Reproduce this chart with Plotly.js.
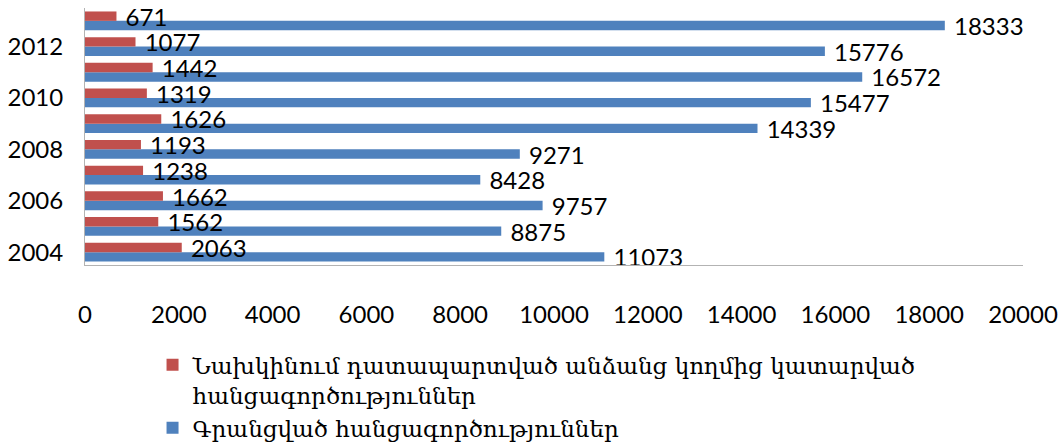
<!DOCTYPE html>
<html>
<head>
<meta charset="utf-8">
<script src="https://cdn.plot.ly/plotly-3.0.1.min.js"></script>
<style>html,body{margin:0;padding:0;background:#fff;}#chart{width:1063px;height:446px;}</style>
</head>
<body>
<div id="chart"></div>
<script>
const years = ['2004','2005','2006','2007','2008','2009','2010','2011','2012','2013'];
const convictedCrimes = [2063, 1562, 1662, 1238, 1193, 1626, 1319, 1442, 1077, 671];
const registeredCrimes = [11073, 8875, 9757, 8428, 9271, 14339, 15477, 16572, 15776, 18333];
const yTickLabels = ['2004','2006','2008','2010','2012'];
const xTicks = [0, 2000, 4000, 6000, 8000, 10000, 12000, 14000, 16000, 18000, 20000];
const seriesNames = [
  'Նախկինում դատապարտված անձանց կողմից կատարված<br>հանցագործություններ',
  'Գրանցված հանցագործություններ'
];

const labelFont = {family: 'Lato, Carlito, Calibri, sans-serif', size: 24, color: '#000'};

const traces = [
  {
    type: 'bar', orientation: 'h', name: seriesNames[1],
    y: years, x: registeredCrimes,
    marker: {color: '#4F81BD'},
    text: registeredCrimes.map(v => ' ' + String(v)), textposition: 'outside',
    textfont: labelFont, constraintext: 'none', cliponaxis: false,
    hoverinfo: 'x+y'
  },
  {
    type: 'bar', orientation: 'h', name: seriesNames[0],
    y: years, x: convictedCrimes,
    marker: {color: '#C0504D'},
    text: convictedCrimes.map(v => ' ' + String(v)), textposition: 'outside',
    textfont: labelFont, constraintext: 'none', cliponaxis: false,
    hoverinfo: 'x+y'
  }
];

const layout = {
  width: 1063, height: 446,
  margin: {l: 85, r: 40, t: 8, b: 181, autoexpand: false},
  paper_bgcolor: '#fff', plot_bgcolor: '#fff',
  barmode: 'group', bargap: 0.27, bargroupgap: 0,
  showlegend: true,
  legend: {
    traceorder: 'reversed', orientation: 'v',
    x: 0.072, xanchor: 'left', y: -0.305, yanchor: 'top',
    valign: 'top', tracegroupgap: 0,
    font: {family: 'DejaVu Serif, serif', size: 23, color: '#000'},
    bgcolor: 'rgba(0,0,0,0)'
  },
  xaxis: {
    range: [0, 20000], tickvals: xTicks, ticktext: xTicks.map(String),
    showgrid: false, zeroline: false,
    showline: true, linecolor: '#B3B3B3', linewidth: 1,
    ticks: '', ticklabelstandoff: 28,
    tickfont: labelFont, fixedrange: true
  },
  yaxis: {
    type: 'category', tickvals: yTickLabels, ticktext: yTickLabels,
    showgrid: false, zeroline: false,
    showline: true, linecolor: '#B3B3B3', linewidth: 1,
    ticks: '', ticklabelstandoff: 16,
    tickfont: labelFont, fixedrange: true
  },
  font: {family: 'Lato, sans-serif', color: '#000'}
};

Plotly.newPlot('chart', traces, layout, {displayModeBar: false, staticPlot: true});
</script>
</body>
</html>
